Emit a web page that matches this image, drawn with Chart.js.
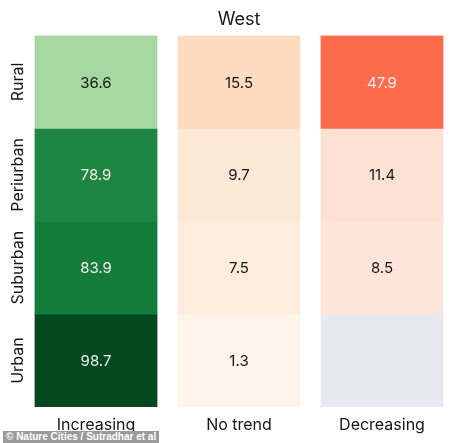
<!DOCTYPE html>
<html>
<head>
<meta charset="utf-8">
<script src="https://cdn.jsdelivr.net/npm/chart.js@4/dist/chart.umd.min.js"></script>
<style>
  html, body { margin: 0; padding: 0; background: #fff; }
  #wrap { position: relative; width: 474px; height: 443px; }
  #credit {
    position: absolute; left: 3px; top: 431px; height: 12px; line-height: 12px;
    padding: 0 3px; background: #9b9b9b; color: #fff;
    font: bold 10px "Liberation Sans", Arial, sans-serif; white-space: nowrap;
  }
</style>
</head>
<body>
<div id="wrap">
  <canvas id="heat" width="474" height="443"></canvas>
  <div id="credit">© Nature Cities / Sutradhar et al</div>
</div>
<script>
const columns = ['Increasing', 'No trend', 'Decreasing'];
const rows = ['Rural', 'Periurban', 'Suburban', 'Urban'];

// percent of cities per trend, one array per column, rows top to bottom
const increasing = [36.6, 78.9, 83.9, 98.7];
const noTrend = [15.5, 9.7, 7.5, 1.3];
const decreasing = [47.9, 11.4, 8.5, null];

// cell colours
const increasingColors = ['#a5d99f', '#1c8641', '#157d3a', '#03481f'];
const noTrendColors = ['#fddbbf', '#fde8d5', '#feecdd', '#fff4e9'];
const decreasingColors = ['#fb6c4d', '#fde1d5', '#fee5db', '#e8e8f1'];

const FONT = 'Inter, "Open Sans", sans-serif';

const values = [increasing, noTrend, decreasing];
const colors = [increasingColors, noTrendColors, decreasingColors];

const datasets = rows.map(function (row, r) {
    return {
        label: row,
        data: columns.map(function () { return 1; }),
        cellValues: values.map(function (col) { return col[r]; }),
        backgroundColor: colors.map(function (col) { return col[r]; }),
        borderWidth: 0,
        inflateAmount: 0.4,
        barPercentage: 0.853,
        categoryPercentage: 1
    };
});

const cellLabels = {
    id: 'cellLabels',
    afterDatasetsDraw(chart) {
        const ctx = chart.ctx;
        ctx.save();
        ctx.font = '15px ' + FONT;
        ctx.textAlign = 'center';
        ctx.textBaseline = 'middle';
        chart.data.datasets.forEach(function (ds, i) {
            chart.getDatasetMeta(i).data.forEach(function (bar, j) {
                const v = ds.cellValues[j];
                if (v === null) return;
                const p = bar.getCenterPoint();
                ctx.fillStyle = v > 45 ? '#f6eeea' : '#161616';
                ctx.fillText(v.toFixed(1), p.x, p.y + 1);
            });
        });
        // row names, rotated, centred on each row
        const y = chart.scales.y;
        ctx.font = '16px ' + FONT;
        ctx.fillStyle = '#161616';
        rows.forEach(function (row, r) {
            ctx.save();
            ctx.translate(18, y.getPixelForValue(r + 0.5));
            ctx.rotate(-Math.PI / 2);
            ctx.fillText(row, 0, 0);
            ctx.restore();
        });
        ctx.restore();
    }
};

new Chart(document.getElementById('heat'), {
    type: 'bar',
    data: { labels: columns, datasets: datasets },
    plugins: [cellLabels],
    options: {
        responsive: false,
        animation: false,
        layout: { padding: { left: 24.5, right: 20.5, bottom: 0 } },
        plugins: {
            legend: { display: false },
            tooltip: { enabled: false },
            title: {
                display: true,
                text: 'West',
                color: '#161616',
                font: { family: FONT, size: 18, weight: 'normal', lineHeight: 1.2 },
                padding: { top: 9, bottom: 5 }
            }
        },
        scales: {
            x: {
                stacked: true,
                grid: { display: false, drawTicks: false },
                border: { display: false },
                ticks: {
                    color: '#161616',
                    padding: 10,
                    font: { family: FONT, size: 16, lineHeight: 1.0 }
                }
            },
            y: {
                stacked: true,
                display: false,
                reverse: true,
                min: 0,
                max: rows.length
            }
        }
    }
});
</script>
</body>
</html>
